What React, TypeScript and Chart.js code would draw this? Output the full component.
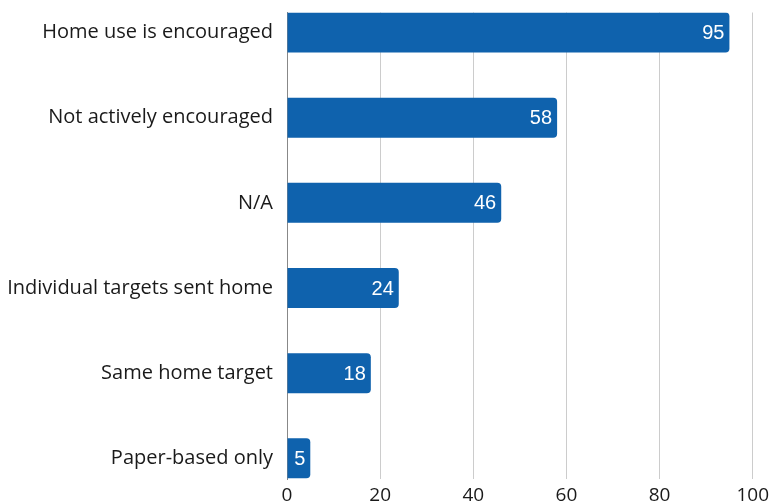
import React, { useEffect, useRef } from "react";
import { Chart, registerables } from "chart.js";

Chart.register(...registerables);

const categories = [
  "Home use is encouraged",
  "Not actively encouraged",
  "N/A",
  "Individual targets sent home",
  "Same home target",
  "Paper-based only",
];
const values = [95, 58, 46, 24, 18, 5];
const xTicks = [0, 20, 40, 60, 80, 100];

const BAR_COLOR = "#0f62ad";
const LABEL_FONT = "'Open Sans', sans-serif";

const valueLabels = {
  id: "valueLabels",
  afterDatasetsDraw(chart: any) {
    const ctx = chart.ctx;
    const meta = chart.getDatasetMeta(0);
    ctx.save();
    ctx.fillStyle = "#ffffff";
    ctx.font = "20px 'Liberation Sans', Arial, sans-serif";
    ctx.textAlign = "right";
    ctx.textBaseline = "middle";
    meta.data.forEach((el: any, i: number) => {
      ctx.fillText(String(values[i]), el.x - 5, el.y + 1);
    });
    ctx.restore();
  },
};

export default function App() {
  const ref = useRef<HTMLCanvasElement | null>(null);
  useEffect(() => {
    if (!ref.current) return;
    const chart = new Chart(ref.current, {
      type: "bar",
      data: {
        datasets: [
          {
            data: values.map((v, i) => ({ x: v, y: i })),
            backgroundColor: BAR_COLOR,
            borderRadius: 4,
            borderSkipped: "start",
            categoryPercentage: 0.94,
            barPercentage: 0.5,
          },
        ],
      },
      options: {
        indexAxis: "y",
        animation: false,
        responsive: false,
        maintainAspectRatio: false,
        layout: { padding: 0 },
        plugins: { legend: { display: false }, tooltip: { enabled: false } },
        scales: {
          x: {
            type: "linear",
            min: xTicks[0],
            max: xTicks[xTicks.length - 1],
            afterBuildTicks: (scale: any) => {
              scale.ticks = xTicks.map((v) => ({ value: v }));
            },
            grid: { color: "#cccccc", drawTicks: false },
            border: { display: false },
            ticks: {
              color: "#1a1a1a",
              padding: 5,
              font: { family: LABEL_FONT, size: 19 },
            },
          },
          y: {
            type: "linear",
            reverse: true,
            bounds: "data",
            offset: false,
            min: -0.235,
            max: 5.245,
            afterBuildTicks: (scale: any) => {
              scale.ticks = categories.map((_, i) => ({ value: i }));
            },
            afterFit: (scale: any) => {
              scale.width = 287;
            },
            grid: { display: false, drawTicks: false, offset: false },
            border: { display: true, color: "#888888", width: 1 },
            ticks: {
              autoSkip: false,
              color: "#1a1a1a",
              padding: 14,
              font: { family: LABEL_FONT, size: 20, lineHeight: 0.05 },
              callback: (v: any) => categories[Math.round(v)] ?? "",
            },
          },
        },
      },
      plugins: [valueLabels],
    });
    return () => chart.destroy();
  }, []);
  return (
    <div style={{ position: "absolute", left: 0, top: -2, width: 774, height: 514 }}>
      <canvas ref={ref} width={774} height={514} style={{ display: "block" }} />
    </div>
  );
}
